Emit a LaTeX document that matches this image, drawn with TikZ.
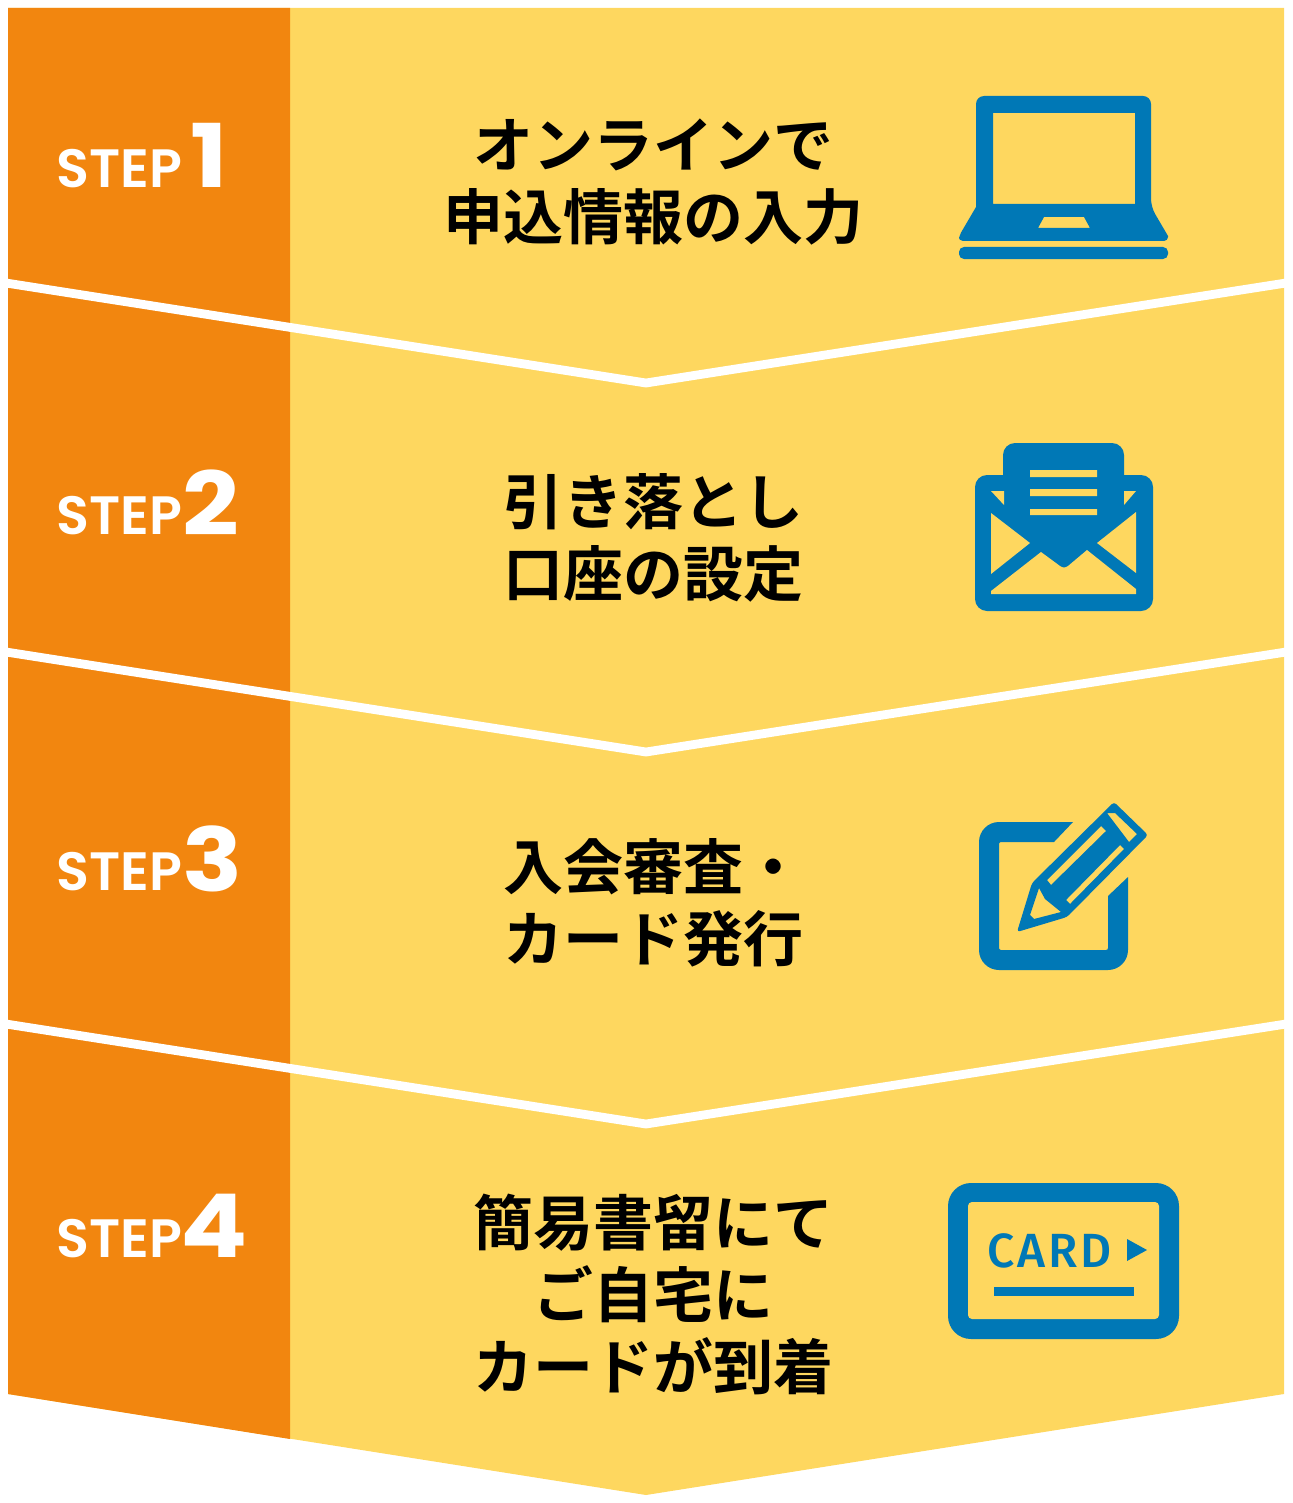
\documentclass[tikz,border=0pt]{standalone}
\usepackage{fontspec}
\setmainfont{Noto Sans CJK JP}[BoldFont={* Bold}]
\newfontfamily\stepfont{Poppins}[BoldFont={* SemiBold}]
\newfontfamily\numfont{Poppins}[BoldFont={* Bold},FakeStretch=1.13]
\newfontfamily\cardfont{Fira Sans}[BoldFont={* Medium},LetterSpace=6]
\definecolor{steporange}{HTML}{F2860F}
\definecolor{stepyellow}{HTML}{FED75F}
\definecolor{iconblue}{HTML}{0078B6}
\tikzset{
  stepword/.style={anchor=base west, inner sep=0pt, text=white, font=\stepfont\bfseries\fontsize{27}{27}\selectfont},
  stepnum/.style={anchor=base west, inner sep=0pt, text=white, font=\numfont\bfseries\fontsize{44}{44}\selectfont},
  caption/.style={inner sep=0pt, align=center, font=\bfseries\fontsize{30}{36}\selectfont},
  icon/.style={fill=iconblue, even odd rule},
  gap/.style={draw=white, line width=4.4pt, miter limit=10}
}

\begin{document}
\begin{tikzpicture}[x=0.5pt, y=-0.5pt]
    \useasboundingbox (0,0) rectangle (1292,1503);

    %define the backgrounds
    \fill[stepyellow] (8,8) -- (1284,8) -- (1284,1394) -- (646,1495) -- (8,1394) -- cycle;
    \fill[steporange] (8,8) -- (290,8) -- (290,1439) -- (8,1394) -- cycle;

    %define the white chevrons
    \foreach \n/\y in {1/283, 2/652, 3/1024} {
        \coordinate (left\n) at (6,\y);
        \coordinate (mid\n) at (646,\y+100);
        \coordinate (right\n) at (1286,\y);
        \draw[gap] (left\n) -- (mid\n) -- (right\n);
    }

    %define the step labels
    \node[stepword] (word1) at (56,188) {STEP};
    \node[stepword] (word2) at (56,534) {STEP};
    \node[stepword] (word3) at (56,890) {STEP};
    \node[stepword] (word4) at (56,1257) {STEP};
    \node[stepnum, xshift=4pt] (num1) at (word1.base east) {1};
    \node[stepnum] (num2) at ([yshift=-0.5pt]word2.base east) {2};
    \node[stepnum] (num3) at ([yshift=-0.5pt]word3.base east) {3};
    \node[stepnum] (num4) at ([xshift=-1pt]word4.base east) {4};

    %define the captions
    \node[caption] (text1) at (653,182) {オンラインで\\申込情報の入力};
    \node[caption] (text2) at (653,538) {引き落とし\\口座の設定};
    \node[caption] (text3) at (653,903) {入会審査・\\カード発行};
    \node[caption] (text4) at (653,1294) {簡易書留にて\\ご自宅に\\カードが到着};

    %laptop
    \fill[icon] [rounded corners=4pt] (976,207) -- (976,96) -- (1151,96) -- (1151,207)
          [sharp corners] -- (1168,236) [rounded corners=2pt] -- (1168,241) -- (959,241) -- (959,236) [sharp corners] -- cycle
          (993,113) rectangle (1135,204)
          (1044,217) -- (1084,217) -- (1090,228) -- (1038,228) -- cycle;
    \fill[icon] [rounded corners=2.5pt] (959,247) -- (1168,247) -- (1168,259) -- (959,259) -- cycle;

    %envelope
    \fill[icon] [rounded corners=6pt] (975,475) rectangle (1153,611);
    \fill[icon] [rounded corners=6pt] (1003,520) -- (1003,443) -- (1124,443) -- (1124,520) -- cycle;
    \fill[stepyellow] (991,491) -- (1004,491) -- (1004,505) -- cycle
          (1124,491) -- (1136,491) -- (1124,505) -- cycle
          (991,513) -- (1030,543) -- (991,574) -- cycle
          (1136,512) -- (1097,543) -- (1136,573) -- cycle
          (991,594) -- (991,591) -- (1041,552) -- (1060,566) .. controls (1063,568) and (1065,568) .. (1068,566)
          -- (1087,550) -- (1136,589) -- (1136,594) -- cycle
          (1030,470) rectangle (1097,477)
          (1030,489) rectangle (1097,496)
          (1030,509) rectangle (1097,515);

    %pencil and sheet
    \fill[icon] (1073,822) [rounded corners=10pt] -- (979,822) -- (979,970) -- (1128,970) [sharp corners] -- (1128,877) -- (1108,896)
          [rounded corners=1pt] -- (1108,950) -- (999,950) -- (999,842) [sharp corners] -- (1054,842) -- cycle;
    \fill[icon] [rounded corners=1.5pt] (1017,932) -- (1032,883) -- (1114,802) -- (1148,835) -- (1067,917) -- cycle
          [sharp corners] (1107,813) -- (1115,813) -- (1137,834) -- (1129,842) -- cycle
          (1047,880) -- (1101,826) -- (1106,831) -- (1051,885) -- cycle
          (1066,900) -- (1120,845) -- (1124,849) -- (1070,904) -- cycle
          (1039,888) -- (1045,899) -- (1061,912) -- (1034,919) -- (1030,915) -- cycle;

    %card
    \fill[icon] [rounded corners=11.5pt] (948,1183) rectangle (1179,1339);
    \fill[stepyellow] [rounded corners=2pt] (968,1202) rectangle (1159,1319);
    \node[inner sep=0pt, anchor=base west, text=iconblue, font=\cardfont\bfseries\fontsize{24}{24}\selectfont] (cardword) at (987,1267) {CARD};
    \fill[iconblue] (1127,1239) -- (1147,1250) -- (1127,1261) -- cycle;
    \fill[iconblue] (994,1287) rectangle (1134,1296);
\end{tikzpicture}
\end{document}
